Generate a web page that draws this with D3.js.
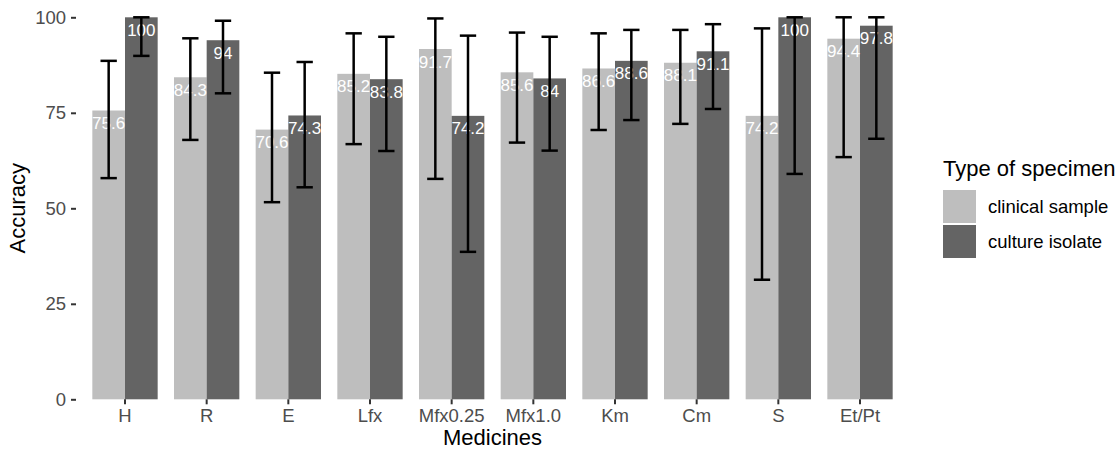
<!DOCTYPE html>
<html>
<head>
<meta charset="utf-8">
<script src="https://cdn.jsdelivr.net/npm/d3@7"></script>
<style>
  body { margin: 0; background: #fff; }
  text { font-family: "Liberation Sans", Arial, sans-serif; }
</style>
</head>
<body>
<div class="bar-chart"></div>
<script>
// medicines on the x axis
var medicines = ["H", "R", "E", "Lfx", "Mfx0.25", "Mfx1.0", "Km", "Cm", "S", "Et/Pt"];
var specimens = ["clinical sample", "culture isolate"];

// accuracy (%) per specimen type
var clinical = [75.6, 84.3, 70.6, 85.2, 91.7, 85.6, 86.6, 88.1, 74.2, 94.4];
var culture  = [100, 94, 74.3, 83.8, 74.2, 84, 88.6, 91.1, 100, 97.8];

// confidence interval ends
var clinicalLow  = [57.9, 67.9, 51.6, 66.8, 57.7, 67.2, 70.5, 72.1, 31.3, 63.4];
var clinicalHigh = [88.6, 94.5, 85.5, 95.8, 99.7, 96.0, 95.8, 96.7, 97.1, 100];
var cultureLow   = [89.9, 80.1, 55.5, 65.0, 38.6, 65.1, 73.1, 76.0, 59.0, 68.2];
var cultureHigh  = [100, 99.1, 88.3, 94.9, 95.2, 94.9, 96.7, 98.2, 100, 100];

var yTicks = [0, 25, 50, 75, 100];

var width = 1118, height = 453;
var panel = { left: 76, right: 909, top: 17.3, bottom: 399.3 };

// long table built from the arrays above
var rows = [];
medicines.forEach(function(m, i) {
    rows.push({ med: m, type: specimens[0], value: clinical[i], lo: clinicalLow[i], hi: clinicalHigh[i] });
    rows.push({ med: m, type: specimens[1], value: culture[i], lo: cultureLow[i], hi: cultureHigh[i] });
});

var fill = d3.scaleOrdinal().domain(specimens).range(["#bebebe", "#646464"]);

var x = d3.scaleBand()
    .domain(medicines)
    .range([panel.left, panel.right])
    .paddingInner(0.2)
    .paddingOuter(0.2);

var xInner = d3.scaleBand()
    .domain(specimens)
    .range([0, x.bandwidth()]);

var y = d3.scaleLinear()
    .domain([0, 100])
    .range([panel.bottom, panel.top]);

var svg = d3.select(".bar-chart")
    .append("svg")
    .attr("width", width)
    .attr("height", height);

// bars
svg.append("g")
  .selectAll("rect")
    .data(rows)
  .enter()
  .append("rect")
    .attr("x", function(d) { return x(d.med) + xInner(d.type); })
    .attr("y", function(d) { return y(d.value); })
    .attr("width", xInner.bandwidth())
    .attr("height", function(d) { return y(0) - y(d.value); })
    .style("fill", function(d) { return fill(d.type); });

// value labels inside the bars
svg.append("g")
  .selectAll("text")
    .data(rows)
  .enter()
  .append("text")
    .attr("x", function(d) { return x(d.med) + xInner(d.type) + xInner.bandwidth() / 2; })
    .attr("y", function(d) { return y(d.value) + 18.5; })
    .attr("text-anchor", "middle")
    .style("font-size", "17px")
    .style("fill", "#ffffff")
    .text(function(d) { return String(d.value); });

// error bars
var capHalf = xInner.bandwidth() * 0.25;
var eb = svg.append("g")
    .selectAll("g")
    .data(rows)
  .enter()
  .append("g")
    .attr("transform", function(d) {
        return "translate(" + (x(d.med) + xInner(d.type) + xInner.bandwidth() / 2) + ",0)";
    })
    .style("stroke", "#000")
    .style("stroke-width", 2.5);

eb.append("line")
    .attr("y1", function(d) { return y(d.lo); })
    .attr("y2", function(d) { return y(d.hi); });
eb.append("line")
    .attr("x1", -capHalf).attr("x2", capHalf)
    .attr("y1", function(d) { return y(d.hi); })
    .attr("y2", function(d) { return y(d.hi); });
eb.append("line")
    .attr("x1", -capHalf).attr("x2", capHalf)
    .attr("y1", function(d) { return y(d.lo); })
    .attr("y2", function(d) { return y(d.lo); });

// axes
var xAxis = svg.append("g")
    .attr("transform", "translate(0," + panel.bottom + ")")
    .call(d3.axisBottom(x).tickSize(5).tickPadding(5));

var yAxis = svg.append("g")
    .attr("transform", "translate(" + panel.left + ",0)")
    .call(d3.axisLeft(y).tickValues(yTicks).tickSize(5).tickPadding(5));

[xAxis, yAxis].forEach(function(ax) {
    ax.select(".domain").remove();
    ax.selectAll(".tick line").style("stroke", "#333333").style("stroke-width", 2);
    ax.selectAll(".tick text")
        .style("font-size", "18.5px")
        .style("fill", "#4d4d4d")
        .style("font-family", "'Liberation Sans', Arial, sans-serif");
});

// axis titles
svg.append("text")
    .attr("x", (panel.left + panel.right) / 2)
    .attr("y", 445)
    .attr("text-anchor", "middle")
    .style("font-size", "22px")
    .style("fill", "#000")
    .text("Medicines");

svg.append("text")
    .attr("transform", "translate(25," + (panel.top + panel.bottom) / 2 + ") rotate(-90)")
    .attr("text-anchor", "middle")
    .style("font-size", "22px")
    .style("fill", "#000")
    .text("Accuracy");

// legend
var legend = svg.append("g").attr("transform", "translate(943,0)");

legend.append("text")
    .attr("x", 0)
    .attr("y", 176)
    .style("font-size", "22px")
    .style("fill", "#000")
    .text("Type of specimen");

var item = legend.selectAll("g.item")
    .data(specimens)
  .enter()
  .append("g")
    .attr("class", "item")
    .attr("transform", function(d, i) { return "translate(0," + (190 + i * 35) + ")"; });

item.append("rect")
    .attr("width", 33)
    .attr("height", 33)
    .style("fill", function(d) { return fill(d); });

item.append("text")
    .attr("x", 45)
    .attr("y", 17)
    .attr("dy", "0.35em")
    .style("font-size", "18.5px")
    .style("fill", "#000")
    .text(function(d) { return d; });
</script>
</body>
</html>
